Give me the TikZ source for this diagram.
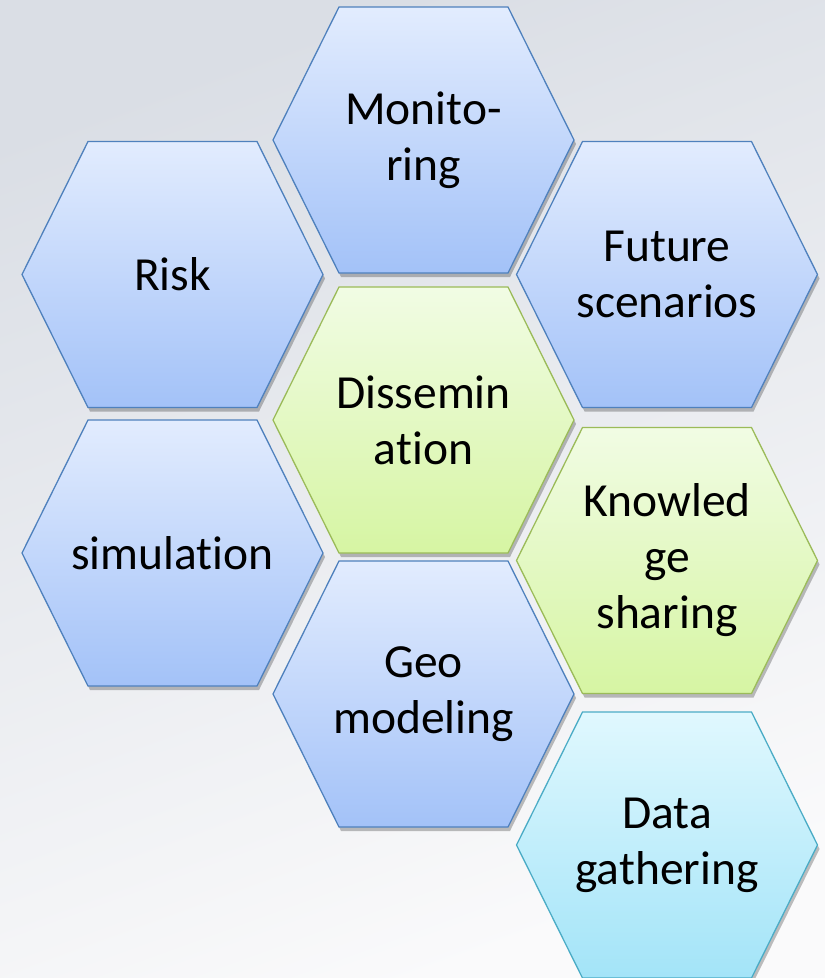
\documentclass[tikz,border=0pt]{standalone}
\usepackage{fontspec}
\setmainfont{Carlito}[Ligatures=NoCommon]
\usetikzlibrary{shadows}
\definecolor{bgtop}{RGB}{218,222,229}
\definecolor{bgbottom}{RGB}{250,250,251}
\definecolor{bluetop}{RGB}{226,236,254}
\definecolor{bluebottom}{RGB}{163,194,248}
\definecolor{blueline}{RGB}{79,129,189}
\definecolor{greentop}{RGB}{241,252,228}
\definecolor{greenbottom}{RGB}{214,245,163}
\definecolor{greenline}{RGB}{155,187,89}
\definecolor{cyantop}{RGB}{224,248,254}
\definecolor{cyanbottom}{RGB}{163,228,248}
\definecolor{cyanline}{RGB}{75,172,198}

\begin{document}
\begin{tikzpicture}[x=1pt,y=-1pt,
	hexcell/.style={line width=1.3pt, line join=miter,
		drop shadow={shadow xshift=2pt, shadow yshift=-4pt, opacity=0.25, fill=black}},
	hexblue/.style={draw=blueline, top color=bluetop, bottom color=bluebottom},
	hexgreen/.style={draw=greenline, top color=greentop, bottom color=greenbottom},
	hexcyan/.style={draw=cyanline, top color=cyantop, bottom color=cyanbottom},
	celltext/.style={align=center, inner sep=0pt, text=black,
		font=\fontsize{47.5}{56}\selectfont}]
	% background
	\shade[top color=bgtop, bottom color=bgbottom, shading angle=20] (0,0) rectangle (825,978);
	\useasboundingbox (0,0) rectangle (825,978);
	% honeycomb
	\foreach \cx/\cy/\kind/\name/\txt in {
		423.5/140/hexblue/monitoring/{Monito-\\ring},
		172.5/274.5/hexblue/risk/{Risk},
		667/274.5/hexblue/future/{Future\\scenarios},
		423.5/420/hexgreen/dissemination/{Dissemin\\ation},
		172.5/553/hexblue/simulation/{simulation},
		667/560.5/hexgreen/knowledge/{Knowled\\ge\\sharing},
		423.5/694/hexblue/geo/{Geo\\modeling},
		667/845/hexcyan/data/{Data\\gathering}}{
		\draw[hexcell,\kind] (\cx-150.5,\cy) -- ++(66,-133) -- ++(169,0) -- ++(66,133)
			-- ++(-66,133) -- ++(-169,0) -- cycle;
		\node[celltext] (\name) at (\cx,\cy) {\txt};
	}
\end{tikzpicture}
\end{document}
